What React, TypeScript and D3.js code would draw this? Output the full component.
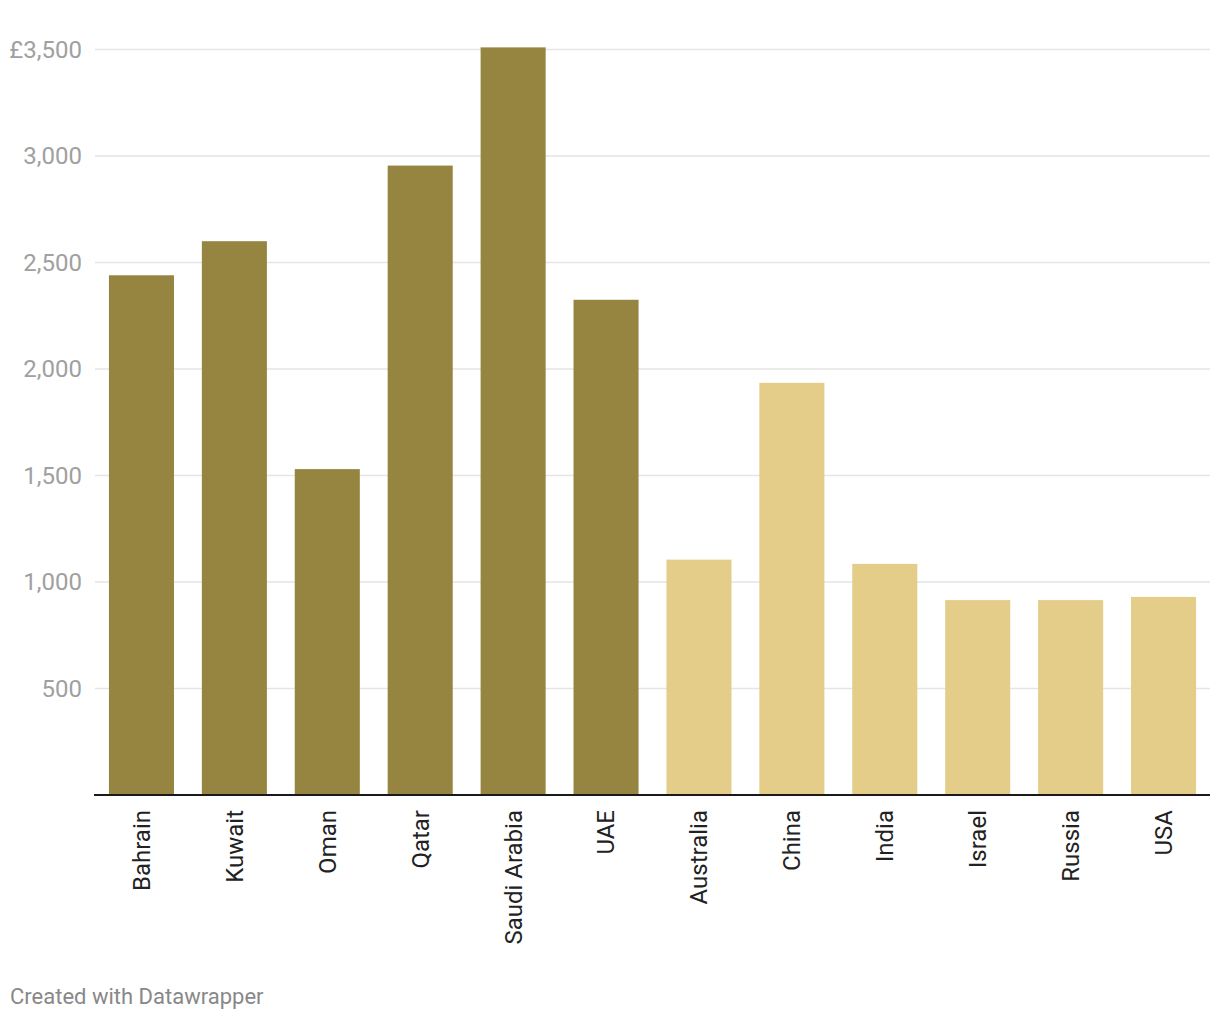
import React from "react";
import * as d3 from "d3";

const categories = ["Bahrain", "Kuwait", "Oman", "Qatar", "Saudi Arabia", "UAE", "Australia", "China", "India", "Israel", "Russia", "USA"];
const values = [2440, 2600, 1530, 2955, 3510, 2325, 1105, 1935, 1085, 915, 915, 930];
const groups = ["gulf", "gulf", "gulf", "gulf", "gulf", "gulf", "other", "other", "other", "other", "other", "other"];
const yTicks = [500, 1000, 1500, 2000, 2500, 3000, 3500];

const W = 1220;
const H = 1020;
const FONT = "Roboto, sans-serif";

export default function App() {
  const x = d3.scaleBand<string>().domain(categories).range([95, 1210]).paddingInner(0.3).paddingOuter(0.15);
  const y = d3.scaleLinear().domain([0, 3500]).range([795, 49.5]);
  const color = (g: string) => (g === "gulf" ? "#968441" : "#e3cd88");
  const fmt = d3.format(",");
  return (
    <svg width={W} height={H} style={{ position: "absolute", left: 0, top: 0, background: "#fff" }}>
      {yTicks.map((t) => (
        <g key={t}>
          <line x1={95} x2={1210} y1={y(t)} y2={y(t)} stroke="#e5e5e5" strokeWidth={1.5} />
          <text x={82} y={y(t)} dy="0.35em" textAnchor="end" fontFamily={FONT} fontSize={24} fill="#a0a0a0">
            {(t === 3500 ? "£" : "") + fmt(t)}
          </text>
        </g>
      ))}
      {categories.map((c, i) => (
        <rect key={c} x={x(c)} y={y(values[i])} width={x.bandwidth()} height={y(0) - y(values[i])} fill={color(groups[i])} />
      ))}
      <line x1={94} x2={1210} y1={y(0)} y2={y(0)} stroke="#1a1a1a" strokeWidth={2} />
      {categories.map((c) => (
        <text
          key={c}
          transform={`translate(${(x(c) as number) + x.bandwidth() / 2},810) rotate(-90)`}
          textAnchor="end"
          dy="0.35em"
          fontFamily={FONT}
          fontSize={24}
          fill="#222"
        >
          {c}
        </text>
      ))}
      <text x={10} y={1004} fontFamily={FONT} fontSize={22} fill="#888">
        Created with Datawrapper
      </text>
    </svg>
  );
}
